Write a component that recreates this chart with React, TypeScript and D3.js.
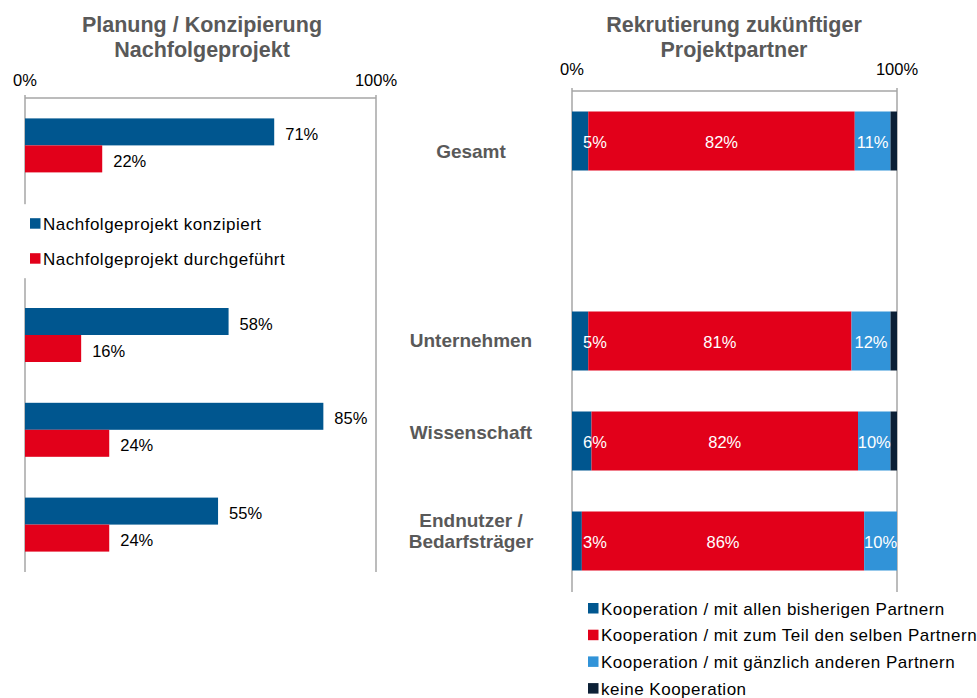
import React from "react";
import * as d3 from "d3";

// ---------- data ----------
const slots = ["Gesamt", "legend", "Unternehmen", "Wissenschaft", "Endnutzer / Bedarfsträger"];
const categoryLabels = [["Gesamt"], [], ["Unternehmen"], ["Wissenschaft"], ["Endnutzer /", "Bedarfsträger"]];

const leftSeriesNames = ["Nachfolgeprojekt konzipiert", "Nachfolgeprojekt durchgeführt"];
const konzipiert = [71, null, 58, 85, 55];
const durchgefuehrt = [22, null, 16, 24, 24];

const rightSeriesNames = [
  "Kooperation / mit allen bisherigen Partnern",
  "Kooperation / mit zum Teil den selben Partnern",
  "Kooperation / mit gänzlich anderen Partnern",
  "keine Kooperation",
];
const allenBisherigen = [5, null, 5, 6, 3];
const zumTeil = [82, null, 81, 82, 86];
const gaenzlichAnderen = [11, null, 12, 10, 10];
const keine = [2, null, 2, 2, 0];

const tickValues = [0, 100];

// ---------- style ----------
const FONT = "'Liberation Sans', Arial, sans-serif";
const BLUE = "#00568F";
const RED = "#E2001A";
const LIGHT = "#3193D8";
const NAVY = "#0C2036";
const GREY_TEXT = "#595959";
const AXIS = "#A6A6A6";
const labelShift = [10, 0, -1, -9, -11];

export default function App() {
  const W = 977, H = 698;

  // Left chart scales
  const xL = d3.scaleLinear().domain([0, 100]).range([25, 376]);
  const yL = d3.scaleBand<string>().domain(slots).range([98, 572]);
  const subL = d3.scaleBand<number>().domain([0, 1]).range([-27, 27]);

  // Right chart scales
  const xR = d3.scaleLinear().domain([0, 100]).range([572, 897]);
  const yR = d3.scaleBand<string>().domain(slots).range([91, 591]);
  const barHR = 59;

  const rightSeries = [allenBisherigen, zumTeil, gaenzlichAnderen, keine];
  const rightColors = [BLUE, RED, LIGHT, NAVY];
  const leftSeries = [konzipiert, durchgefuehrt];
  const leftColors = [BLUE, RED];

  const rows = slots.map((s, i) => {
    const vals = rightSeries.map((ser) => ser[i]);
    if (vals[0] == null) return null;
    const total = d3.sum(vals as number[]);
    const stack: { x0: number; x1: number; v: number; k: number }[] = [];
    let acc = 0;
    vals.forEach((v, k) => {
      const p0 = (acc / total) * 100;
      acc += v as number;
      const p1 = (acc / total) * 100;
      stack.push({ x0: p0, x1: p1, v: v as number, k });
    });
    return { s, i, stack };
  });

  const legendSlotCenter = (yL("legend") as number) + yL.bandwidth() / 2;

  return (
    <svg width={W} height={H} style={{ display: "block", position: "absolute", left: 0, top: 0 }} fontFamily={FONT}>
      <rect width={W} height={H} fill="#fff" />

      {/* Left title */}
      <text x={202} y={32} textAnchor="middle" fontSize={21.5} fontWeight="bold" fill={GREY_TEXT}>Planung / Konzipierung</text>
      <text x={202} y={57} textAnchor="middle" fontSize={21.5} fontWeight="bold" fill={GREY_TEXT}>Nachfolgeprojekt</text>

      {/* Right title */}
      <text x={734} y={32} textAnchor="middle" fontSize={21.5} fontWeight="bold" fill={GREY_TEXT}>Rekrutierung zukünftiger</text>
      <text x={734} y={57} textAnchor="middle" fontSize={21.5} fontWeight="bold" fill={GREY_TEXT}>Projektpartner</text>

      {/* Left axes */}
      <line x1={xL(0)} x2={xL(100)} y1={98} y2={98} stroke={AXIS} strokeWidth={1.5} />
      {tickValues.map((t) => (
        <g key={"lt" + t}>
          <line x1={xL(t)} x2={xL(t)} y1={95} y2={572} stroke={AXIS} strokeWidth={1.5} />
          <text x={xL(t)} y={86} textAnchor="middle" fontSize={16.5} fill="#000">{t}%</text>
        </g>
      ))}

      {/* Left bars */}
      {slots.map((s, i) =>
        leftSeries.map((ser, k) => {
          const v = ser[i];
          if (v == null) return null;
          const yc = (yL(s) as number) + yL.bandwidth() / 2;
          const y0 = yc + (subL(k) as number);
          return (
            <g key={"lb" + i + k}>
              <rect x={xL(0)} y={y0} width={xL(v) - xL(0)} height={subL.bandwidth()} fill={leftColors[k]} />
              <text x={xL(v) + 11} y={y0 + subL.bandwidth() / 2 + 2} dominantBaseline="central" fontSize={16.5} fill="#000">{v}%</text>
            </g>
          );
        })
      )}

      {/* Left legend */}
      <rect x={20} y={legendSlotCenter - 36} width={290} height={74} fill="#fff" />
      {leftSeriesNames.map((n, k) => {
        const cy = legendSlotCenter - 17 + k * 35;
        return (
          <g key={"ll" + k}>
            <rect x={30} y={cy - 5} width={10.5} height={10.5} fill={leftColors[k]} />
            <text x={43} y={cy + 1} dominantBaseline="central" fontSize={17} letterSpacing={0.5} fill="#000">{n}</text>
          </g>
        );
      })}

      {/* Right axes */}
      <line x1={xR(0)} x2={xR(100)} y1={91} y2={91} stroke={AXIS} strokeWidth={1.5} />
      {tickValues.map((t) => (
        <g key={"rt" + t}>
          <line x1={xR(t)} x2={xR(t)} y1={88} y2={592} stroke={AXIS} strokeWidth={1.5} />
          <text x={xR(t)} y={75} textAnchor="middle" fontSize={16.5} fill="#000">{t}%</text>
        </g>
      ))}

      {/* Right bars */}
      {rows.map((r) => {
        if (!r) return null;
        const yc = (yR(r.s) as number) + yR.bandwidth() / 2;
        return (
          <g key={"rb" + r.i}>
            {r.stack.map((seg) =>
              seg.v > 0 ? (
                <rect key={seg.k} x={xR(seg.x0)} y={yc - barHR / 2} width={xR(seg.x1) - xR(seg.x0)} height={barHR} fill={rightColors[seg.k]} />
              ) : null
            )}
            {r.stack.map((seg) => {
              if (seg.k === 3 || seg.v <= 0) return null;
              let cx = (xR(seg.x0) + xR(seg.x1)) / 2;
              if (seg.k === 0) cx = Math.max(cx, xR(0) + 23);
              return (
                <text key={"t" + seg.k} x={cx} y={yc + 1} textAnchor="middle" dominantBaseline="central" fontSize={16.5} fill="#fff">{seg.v}%</text>
              );
            })}
          </g>
        );
      })}

      {/* Category labels */}
      {slots.map((s, i) => {
        const lines = categoryLabels[i];
        if (!lines.length) return null;
        const yc = (yR(s) as number) + yR.bandwidth() / 2 + labelShift[i];
        return (
          <text key={"cl" + i} x={471} textAnchor="middle" fontSize={19} fontWeight="bold" fill={GREY_TEXT}>
            {lines.map((ln, j) => (
              <tspan key={j} x={471} y={yc + 7 + (j - (lines.length - 1) / 2) * 21}>{ln}</tspan>
            ))}
          </text>
        );
      })}

      {/* Right legend */}
      {rightSeriesNames.map((n, k) => {
        const cy = 608 + k * 26.7;
        return (
          <g key={"rl" + k}>
            <rect x={588} y={cy - 5} width={10.5} height={10.5} fill={rightColors[k]} />
            <text x={601} y={cy + 1} dominantBaseline="central" fontSize={17} letterSpacing={0.5} fill="#000">{n}</text>
          </g>
        );
      })}
    </svg>
  );
}
